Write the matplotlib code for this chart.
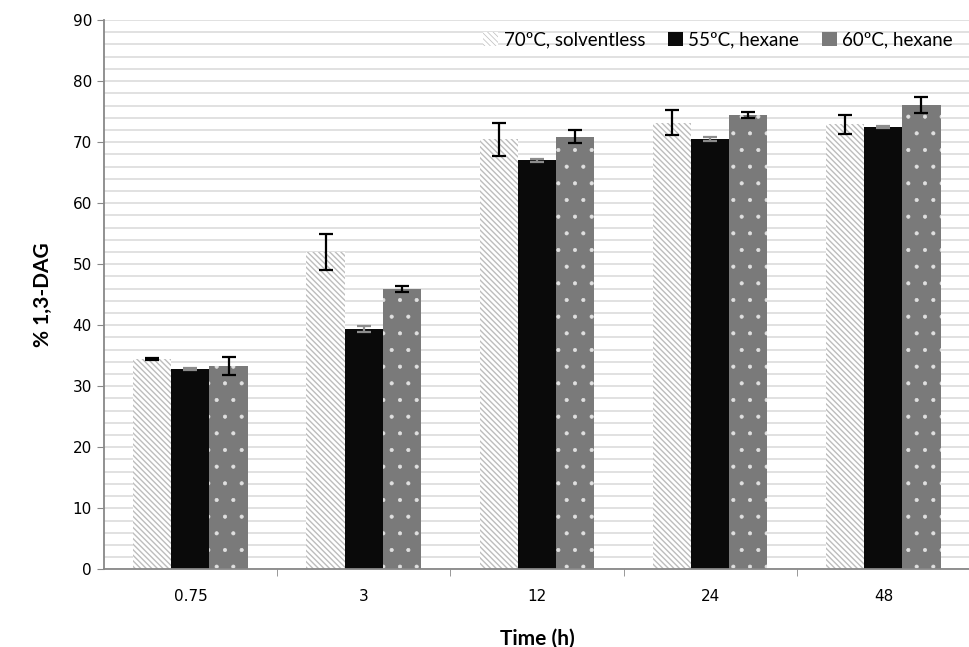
import numpy as np
import matplotlib
matplotlib.use('Agg')
import matplotlib.pyplot as plt
from matplotlib.ticker import MultipleLocator, FixedLocator

# data
times = ['0.75', '3', '12', '24', '48']
series_names = ['70ºC, solventless', '55ºC, hexane', '60ºC, hexane']
solventless = [34.5, 52.0, 70.5, 73.2, 72.9]
solventless_err = [0.2, 3.0, 2.7, 2.1, 1.5]
hexane55 = [32.8, 39.4, 67.0, 70.5, 72.5]
hexane55_err = [0.2, 0.5, 0.3, 0.3, 0.2]
hexane60 = [33.3, 45.9, 70.9, 74.5, 76.1]
hexane60_err = [1.5, 0.5, 1.1, 0.5, 1.3]

plt.rcParams['hatch.linewidth'] = 1.0

fig = plt.figure(figsize=(9.7, 6.47), dpi=100)
ax = fig.add_axes([0.107, 0.12, 0.893, 0.849])

x = np.arange(len(times))
w = 0.22

# solventless: white bar with light grey diagonal stripes
ax.bar(x - w, solventless, w, color='white', edgecolor='#bdbdbd',
       hatch='\\\\\\\\\\\\', linewidth=0, zorder=2, label=series_names[0])
# 55 C hexane: black bar
ax.bar(x, hexane55, w, color='#0a0a0a', linewidth=0, zorder=2, label=series_names[1])
# 60 C hexane: grey bar with white dots
ax.bar(x + w, hexane60, w, color='#7a7a7a', linewidth=0, zorder=2, label=series_names[2])
plt.rcParams['hatch.linewidth'] = 0.5
ax.bar(x + w, hexane60, w, fill=False, edgecolor='#e0e0e0', hatch='.',
       linewidth=0, zorder=2)

ax.errorbar(x - w, solventless, yerr=solventless_err, fmt='none', ecolor='black',
            elinewidth=1.6, capsize=5, capthick=1.6, zorder=3)
ax.errorbar(x, hexane55, yerr=hexane55_err, fmt='none', ecolor='#8c8c8c',
            elinewidth=1.6, capsize=5, capthick=1.6, zorder=3)
ax.errorbar(x + w, hexane60, yerr=hexane60_err, fmt='none', ecolor='black',
            elinewidth=1.6, capsize=5, capthick=1.6, zorder=3)

ax.set_xlim(-0.5, len(times) - 0.5)
ax.set_ylim(0, 90)
ax.yaxis.set_major_locator(MultipleLocator(10))
ax.yaxis.set_minor_locator(MultipleLocator(2))
ax.grid(True, which='both', axis='y', color='#dcdcdc', linewidth=1.2, zorder=0)
ax.set_axisbelow(True)

# category labels centred, tick marks between categories
ax.set_xticks(x)
ax.set_xticklabels(times, fontsize=11, family='DejaVu Sans')
ax.tick_params(axis='x', length=0, pad=14)
ax.xaxis.set_minor_locator(FixedLocator(np.arange(0.5, len(times) - 0.5, 1)))
ax.tick_params(axis='x', which='minor', length=5, color='#888888')
ax.tick_params(axis='y', which='major', length=5, color='#888888', labelsize=11)
ax.tick_params(axis='y', which='minor', length=0)
for lab in ax.get_yticklabels():
    lab.set_family('DejaVu Sans')

for s in ['top', 'right']:
    ax.spines[s].set_visible(False)
ax.spines['left'].set_color('#888888')
ax.spines['bottom'].set_color('#888888')
ax.spines['left'].set_linewidth(1.3)
ax.spines['bottom'].set_linewidth(1.3)

ax.set_ylabel('% 1,3-DAG', fontsize=15, fontweight='bold', family='Lato', labelpad=14)
ax.set_xlabel('Time (h)', fontsize=15, fontweight='bold', family='Lato', labelpad=18)

ax.legend(loc='upper right', bbox_to_anchor=(1.0, 1.01), ncol=3, frameon=False,
          prop={'family': 'Lato', 'size': 13.5}, handlelength=0.8, handleheight=0.8,
          handletextpad=0.3, columnspacing=1.2)

fig.savefig('out.png', dpi=100)
